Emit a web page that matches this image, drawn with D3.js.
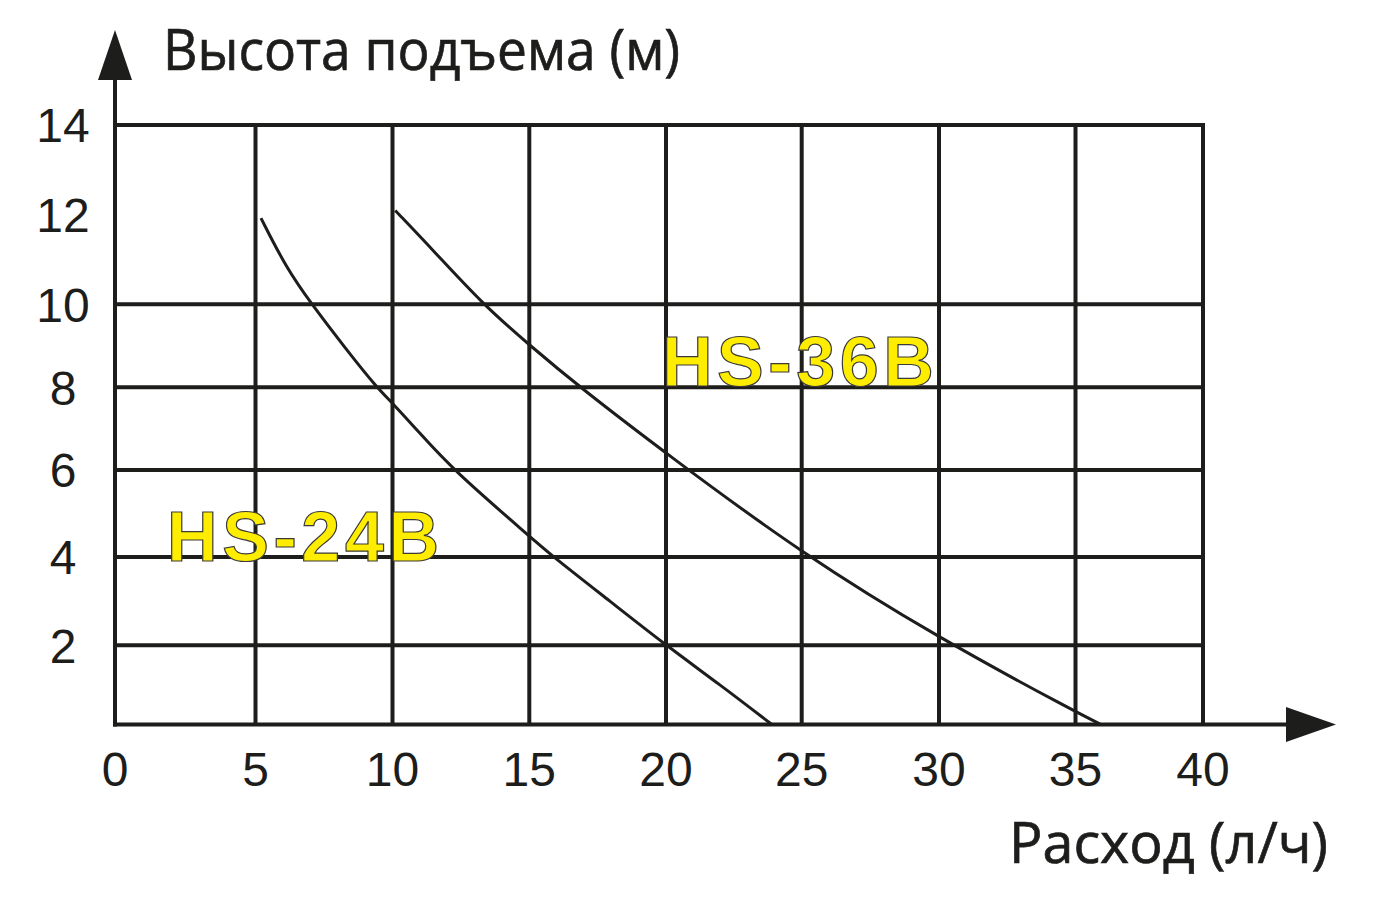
<!DOCTYPE html>
<html><head><meta charset="utf-8">
<script src="https://cdn.jsdelivr.net/npm/d3@7"></script>
<style>html,body{margin:0;background:#fff;} svg{display:block}</style>
</head><body><svg id="c" width="1377" height="901"></svg>
<script>
// ---- data ----
const xTicks = [0, 5, 10, 15, 20, 25, 30, 35, 40];
const yTicks = [2, 4, 6, 8, 10, 12, 14];
const yGrid = [2, 4, 6, 8, 10, 14];
const hs24Flow = [5.2, 6.1, 7.05, 8.33, 9.42, 10, 11.0, 12.22, 15, 15.88, 17.95, 20, 22, 23.9];
const hs24Head = [11.93, 10.84, 10, 8.9, 8, 7.62, 6.89, 6, 4.48, 4, 3.0, 2, 1.0, 0];
const hs36Flow = [10.1, 11.5, 13.3, 15, 16.85, 20, 25, 30, 35, 36];
const hs36Head = [12.1, 11.2, 10, 9.02, 8, 6.4, 4.08, 2.16, 0.32, 0];
const seriesNames = ["HS-24B", "HS-36B"];
const seriesLabelPos = [[1.85, 3.91], [19.85, 8.02]];
const yTitle = "Высота подъема (м)";
const xTitle = "Расход (л/ч)";

// ---- scales (reference grid is slightly irregular) ----
const x = d3.scaleLinear().domain(xTicks)
  .range([115, 255.5, 392.5, 529.3, 666, 801.7, 939, 1075.5, 1203]);
const y = d3.scaleLinear().domain([0, 2, 4, 6, 8, 10, 12, 14])
  .range([724.5, 645.3, 557, 470, 387.3, 304.3, 215, 125]);

const ink = "#1d1d1b";
const svg = d3.select("#c");

// grid
const g = svg.append("g");
g.selectAll("line.v").data(xTicks.slice(1)).join("line")
  .attr("x1", d => x(d)).attr("x2", d => x(d))
  .attr("y1", y(0)).attr("y2", y(14) - 2)
  .attr("stroke", ink).attr("stroke-width", 4);
g.selectAll("line.h").data(yGrid).join("line")
  .attr("x1", x(0)).attr("x2", x(40) + 2)
  .attr("y1", d => y(d)).attr("y2", d => y(d))
  .attr("stroke", ink).attr("stroke-width", 4);

// axes with arrows
svg.append("line").attr("x1", x(0)).attr("x2", x(0)).attr("y1", y(0) + 2).attr("y2", 78)
  .attr("stroke", ink).attr("stroke-width", 4);
svg.append("path").attr("d", `M${x(0)},30 L${x(0) + 17},80 L${x(0) - 17},80 Z`).attr("fill", ink);
svg.append("line").attr("x1", x(0) - 2).attr("x2", 1290).attr("y1", y(0)).attr("y2", y(0))
  .attr("stroke", ink).attr("stroke-width", 4);
svg.append("path").attr("d", `M1336,${y(0)} L1286,${y(0) - 17.5} L1286,${y(0) + 17.5} Z`).attr("fill", ink);

// tick labels
const tickFont = "'Liberation Sans', Arial, sans-serif";
svg.selectAll("text.xt").data(xTicks).join("text")
  .attr("x", d => x(d)).attr("y", 786)
  .attr("text-anchor", "middle").attr("font-family", tickFont).attr("font-size", 48)
  .attr("fill", ink).text(d => d);
svg.selectAll("text.yt").data(yTicks).join("text")
  .attr("x", 63).attr("y", d => y(d)).attr("dy", "0.36em")
  .attr("text-anchor", "middle").attr("font-family", tickFont).attr("font-size", 48)
  .attr("fill", ink).text(d => d);

// curves
const line = d3.line().x(d => x(d[0])).y(d => y(d[1])).curve(d3.curveBasis);
const curves = [d3.zip(hs24Flow, hs24Head), d3.zip(hs36Flow, hs36Head)];
svg.selectAll("path.curve").data(curves).join("path")
  .attr("d", line).attr("fill", "none").attr("stroke", ink).attr("stroke-width", 3);

// series labels
svg.selectAll("text.lab").data(seriesNames).join("text")
  .attr("x", (d, i) => x(seriesLabelPos[i][0])).attr("y", (d, i) => y(seriesLabelPos[i][1]))
  .attr("font-family", tickFont).attr("font-weight", "bold").attr("font-size", 70)
  .attr("textLength", 272).attr("lengthAdjust", "spacing")
  .attr("fill", "#ffed00").attr("stroke", "#3a3a3a").attr("stroke-width", 1.2)
  .text(d => d);

// axis titles
const titleFont = "'Open Sans', 'Noto Sans', sans-serif";
svg.append("text").attr("x", 163).attr("y", 70)
  .attr("font-family", titleFont).attr("font-size", 57).attr("fill", ink)
  .attr("stroke", ink).attr("stroke-width", 0.7)
  .attr("textLength", 517).attr("lengthAdjust", "spacingAndGlyphs").text(yTitle);
svg.append("text").attr("x", 1009).attr("y", 863)
  .attr("font-family", titleFont).attr("font-size", 57).attr("fill", ink)
  .attr("stroke", ink).attr("stroke-width", 0.7)
  .attr("textLength", 319).attr("lengthAdjust", "spacingAndGlyphs").text(xTitle);
</script>
</body></html>
